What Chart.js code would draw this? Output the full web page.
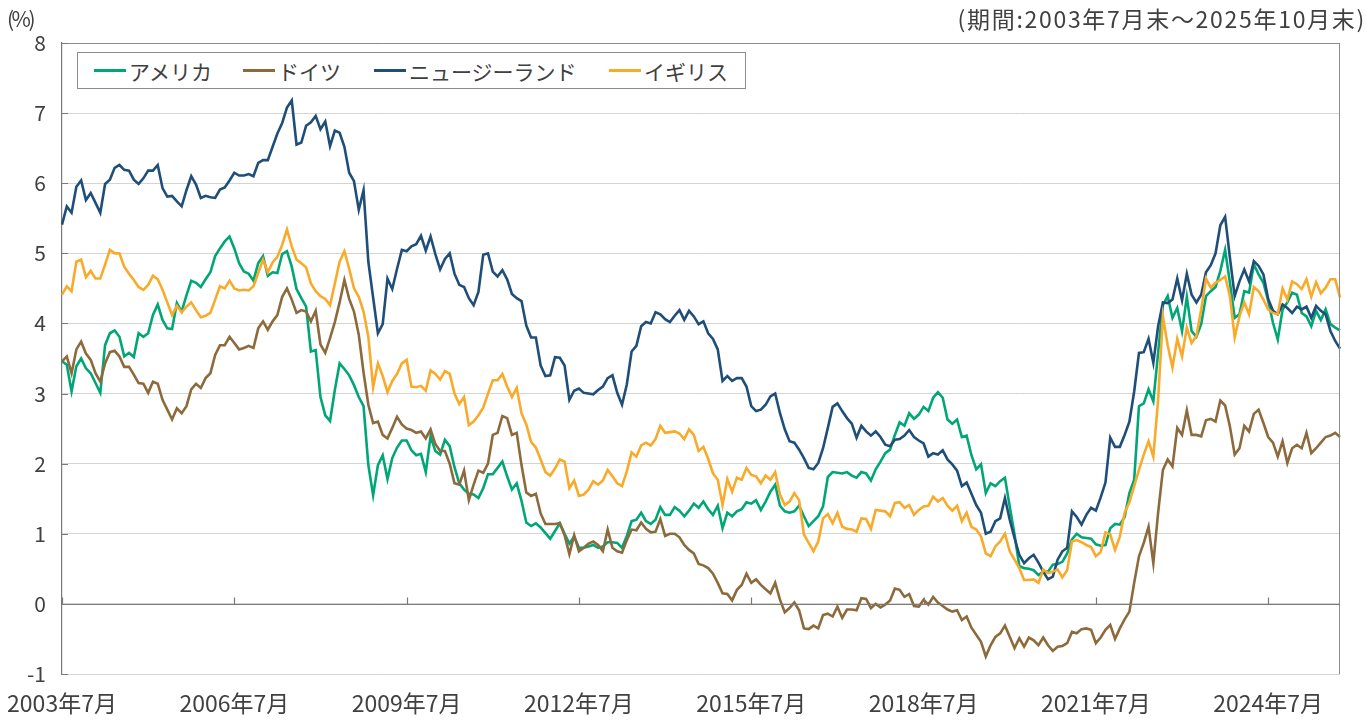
<!DOCTYPE html>
<html>
<head>
<meta charset="utf-8">
<script src="https://cdn.jsdelivr.net/npm/chart.js@4.4.1/dist/chart.umd.min.js"></script>
<style>
  html, body { margin: 0; padding: 0; background: #fff; }
  #wrap { position: relative; width: 1370px; height: 720px; font-family: "Noto Sans CJK JP", "Noto Sans", sans-serif; color: #404040; }
  canvas { position: absolute; left: 0; top: 0; }
  .note { position: absolute; line-height: 24px; white-space: nowrap; }
  #legend { position: absolute; left: 77px; top: 52px; width: 667px; height: 35px; border: 1px solid #8c8c8c; background: #fff; }
  .item { position: absolute; top: 0; height: 35px; display: flex; align-items: center; font-size: 21px; white-space: nowrap; }
  .swatch { width: 32px; height: 3px; margin-right: 3px; }
</style>
</head>
<body>
<div id="wrap">
  <canvas id="c" width="1370" height="720"></canvas>
  <div class="note" style="left:7px; top:6px; font-size:21px; letter-spacing:-2.5px;">(%)</div>
  <div class="note" style="right:4px; top:6px; font-size:23px; letter-spacing:1.7px;">(期間:2003年7月末～2025年10月末)</div>
  <div id="legend"></div>
</div>
<script>
// ---- categories (monthly, 2003年7月 .. 2025年10月) ----
const START_YEAR = 2003;
const START_MONTH = 7;
const MONTH_COUNT = 268;
const months = Array.from({length: MONTH_COUNT}, (_, i) => {
  const m = START_MONTH - 1 + i;
  return (START_YEAR + Math.floor(m / 12)) + '年' + (m % 12 + 1) + '月';
});
const TICK_EVERY = 36;

// ---- series names ----
const seriesNames = ['アメリカ', 'ドイツ', 'ニュージーランド', 'イギリス'];

// ---- series values (%) ----
const usa = [
  3.46,3.41,3.03,3.39,3.50,3.36,3.29,3.15,3.01,3.69,3.86,3.90,
  3.81,3.53,3.58,3.52,3.86,3.81,3.86,4.12,4.27,4.05,3.93,3.92,
  4.29,4.17,4.40,4.61,4.58,4.52,4.63,4.73,4.96,5.07,5.17,5.24,
  5.07,4.86,4.74,4.71,4.61,4.86,4.96,4.68,4.73,4.72,4.99,5.03,
  4.81,4.49,4.36,4.24,3.60,3.62,2.95,2.69,2.61,3.05,3.43,3.35,
  3.26,3.12,2.95,2.82,1.98,1.55,1.98,2.12,1.78,2.08,2.23,2.33,
  2.33,2.19,2.12,2.14,1.88,2.39,2.18,2.13,2.34,2.25,1.95,1.72,
  1.63,1.57,1.56,1.51,1.65,1.85,1.85,1.94,2.03,1.82,1.63,1.72,
  1.47,1.16,1.11,1.15,1.09,1.01,0.93,1.04,1.15,1.00,0.86,0.96,
  0.80,0.80,0.82,0.84,0.80,0.82,0.88,0.88,0.87,0.80,0.97,1.18,
  1.20,1.30,1.18,1.14,1.20,1.38,1.27,1.27,1.38,1.33,1.25,1.33,
  1.43,1.37,1.46,1.35,1.27,1.40,1.08,1.30,1.25,1.32,1.35,1.45,
  1.43,1.48,1.34,1.46,1.60,1.70,1.40,1.32,1.30,1.32,1.40,1.25,
  1.11,1.18,1.25,1.39,1.81,1.88,1.87,1.86,1.88,1.83,1.80,1.88,
  1.86,1.76,1.92,2.03,2.15,2.20,2.41,2.59,2.54,2.72,2.64,2.70,
  2.81,2.75,2.94,3.02,2.94,2.63,2.57,2.63,2.38,2.40,2.12,1.92,
  1.99,1.58,1.72,1.68,1.75,1.80,1.39,0.99,0.54,0.51,0.50,0.48,
  0.41,0.46,0.46,0.56,0.57,0.60,0.72,0.92,1.00,0.95,0.94,0.93,
  0.85,0.83,0.84,1.08,1.14,1.13,1.24,1.58,1.77,2.82,2.86,3.06,
  2.89,3.58,4.26,4.39,4.08,4.22,3.89,4.38,3.89,3.81,3.99,4.39,
  4.46,4.52,4.75,5.05,4.58,4.08,4.13,4.46,4.44,4.84,4.70,4.58,
  4.32,4.01,3.77,4.20,4.30,4.44,4.41,4.15,4.10,3.96,4.18,4.05,
  4.20,3.99,3.94,3.90
];
const germany = [
  3.46,3.53,3.29,3.63,3.74,3.57,3.48,3.29,3.17,3.43,3.59,3.61,
  3.53,3.38,3.38,3.27,3.15,3.14,3.01,3.17,3.14,2.91,2.77,2.63,
  2.79,2.72,2.82,3.06,3.14,3.08,3.22,3.29,3.55,3.69,3.69,3.81,
  3.72,3.63,3.65,3.68,3.65,3.93,4.03,3.91,4.03,4.12,4.38,4.50,
  4.34,4.15,4.19,4.17,4.03,4.18,3.70,3.58,3.79,4.02,4.30,4.62,
  4.35,4.17,3.84,3.30,2.84,2.58,2.60,2.41,2.36,2.51,2.67,2.56,
  2.50,2.48,2.44,2.46,2.36,2.49,2.28,2.18,2.18,2.00,1.72,1.70,
  1.90,1.48,1.70,1.90,1.87,2.00,2.41,2.44,2.68,2.65,2.41,2.44,
  1.98,1.59,1.54,1.57,1.29,1.14,1.14,1.14,1.15,0.98,0.71,0.98,
  0.75,0.80,0.86,0.89,0.84,0.75,1.06,0.80,0.75,0.73,0.91,1.06,
  1.05,1.16,1.07,1.02,1.03,1.21,0.97,1.00,1.00,0.95,0.84,0.77,
  0.72,0.57,0.55,0.51,0.43,0.30,0.15,0.14,0.05,0.20,0.27,0.43,
  0.30,0.35,0.27,0.21,0.15,0.30,0.06,-0.12,-0.06,0.02,-0.09,-0.35,
  -0.36,-0.31,-0.35,-0.16,-0.14,-0.18,-0.04,-0.20,-0.08,-0.08,-0.09,0.08,
  0.07,-0.06,0.00,-0.05,-0.01,0.05,0.22,0.20,0.10,0.14,-0.03,-0.04,
  0.06,-0.01,0.10,0.02,-0.03,-0.08,-0.11,-0.09,-0.23,-0.18,-0.34,-0.44,
  -0.54,-0.75,-0.59,-0.47,-0.42,-0.31,-0.47,-0.63,-0.49,-0.61,-0.48,-0.52,
  -0.59,-0.48,-0.59,-0.67,-0.61,-0.60,-0.56,-0.40,-0.42,-0.36,-0.35,-0.37,
  -0.56,-0.48,-0.37,-0.30,-0.50,-0.35,-0.22,-0.11,0.30,0.68,0.87,1.10,
  0.58,1.30,1.91,2.06,1.96,2.51,2.41,2.76,2.41,2.41,2.39,2.62,
  2.64,2.60,2.90,2.83,2.53,2.13,2.22,2.54,2.46,2.71,2.77,2.58,
  2.38,2.30,2.10,2.32,2.01,2.22,2.27,2.22,2.44,2.15,2.22,2.30,
  2.38,2.40,2.44,2.38
];
const newZealand = [
  5.41,5.67,5.58,5.95,6.04,5.76,5.86,5.72,5.58,5.99,6.05,6.22,
  6.26,6.19,6.18,6.05,5.99,6.07,6.18,6.18,6.26,5.93,5.81,5.82,
  5.74,5.67,5.90,6.10,5.98,5.79,5.82,5.80,5.79,5.91,5.94,6.04,
  6.15,6.11,6.11,6.13,6.10,6.29,6.33,6.33,6.52,6.71,6.86,7.08,
  7.18,6.55,6.58,6.82,6.87,6.96,6.77,6.88,6.53,6.75,6.72,6.52,
  6.15,6.03,5.62,5.90,4.88,4.37,3.86,3.99,4.64,4.49,4.78,5.05,
  5.03,5.10,5.13,5.25,5.04,5.24,4.99,4.77,4.92,5.00,4.71,4.55,
  4.52,4.36,4.26,4.45,4.98,5.00,4.74,4.67,4.76,4.63,4.42,4.36,
  4.32,3.97,3.80,3.80,3.40,3.25,3.26,3.52,3.51,3.40,2.91,3.04,
  3.07,3.01,3.00,2.99,3.05,3.10,3.22,3.26,3.01,2.84,3.13,3.60,
  3.68,3.96,4.02,4.00,4.16,4.13,4.06,4.02,4.11,4.19,4.05,4.18,
  4.10,3.99,4.03,3.86,3.78,3.63,3.18,3.25,3.18,3.22,3.22,3.10,
  2.82,2.75,2.77,2.84,2.96,3.00,2.72,2.49,2.32,2.30,2.20,2.08,
  1.94,1.92,2.01,2.22,2.51,2.81,2.86,2.75,2.65,2.57,2.37,2.54,
  2.46,2.40,2.46,2.38,2.27,2.25,2.34,2.35,2.40,2.48,2.38,2.33,
  2.29,2.10,2.15,2.13,2.19,2.06,1.99,1.90,1.68,1.73,1.57,1.41,
  1.30,1.00,1.03,1.18,1.22,1.51,1.20,0.94,0.70,0.58,0.65,0.70,
  0.59,0.46,0.35,0.39,0.63,0.75,0.80,1.32,1.24,1.13,1.27,1.37,
  1.33,1.52,1.73,2.37,2.24,2.24,2.41,2.60,3.03,3.58,3.59,3.78,
  3.44,3.96,4.30,4.29,4.34,4.64,4.33,4.71,4.41,4.30,4.41,4.73,
  4.83,5.00,5.40,5.52,4.94,4.39,4.60,4.77,4.60,4.89,4.82,4.70,
  4.35,4.18,4.13,4.27,4.22,4.15,4.24,4.20,4.24,4.08,4.25,4.18,
  4.13,3.89,3.75,3.64
];
const uk = [
  4.41,4.53,4.46,4.88,4.91,4.66,4.75,4.64,4.64,4.84,5.05,5.00,
  5.00,4.81,4.71,4.62,4.52,4.48,4.55,4.68,4.63,4.48,4.30,4.12,
  4.25,4.16,4.24,4.30,4.19,4.09,4.11,4.15,4.34,4.53,4.50,4.61,
  4.50,4.47,4.48,4.47,4.53,4.72,4.91,4.73,4.87,4.95,5.12,5.34,
  5.10,4.91,4.86,4.80,4.57,4.46,4.39,4.35,4.26,4.57,4.88,5.03,
  4.78,4.50,4.38,4.17,3.81,3.09,3.43,3.25,3.02,3.18,3.28,3.43,
  3.48,3.10,3.09,3.11,3.04,3.33,3.28,3.20,3.32,3.28,3.00,2.85,
  2.95,2.55,2.60,2.69,2.80,3.00,3.19,3.19,3.28,3.10,2.95,3.08,
  2.72,2.56,2.31,2.23,2.06,1.88,1.83,1.93,2.06,2.03,1.65,1.76,
  1.54,1.56,1.63,1.75,1.70,1.76,1.91,1.82,1.72,1.68,1.89,2.16,
  2.10,2.26,2.30,2.26,2.35,2.54,2.44,2.45,2.46,2.43,2.35,2.49,
  2.41,2.18,2.24,2.07,1.86,1.77,1.41,1.78,1.60,1.80,1.77,1.94,
  1.84,1.82,1.72,1.83,1.77,1.88,1.56,1.41,1.46,1.58,1.48,0.99,
  0.87,0.75,0.89,1.22,1.28,1.15,1.30,1.10,1.07,1.06,1.03,1.22,
  1.21,1.07,1.34,1.33,1.32,1.25,1.44,1.45,1.37,1.41,1.27,1.34,
  1.39,1.40,1.53,1.46,1.51,1.40,1.33,1.40,1.18,1.30,1.10,1.06,
  0.96,0.72,0.68,0.82,0.89,1.00,0.75,0.63,0.51,0.34,0.34,0.35,
  0.30,0.49,0.44,0.46,0.49,0.38,0.48,0.89,0.91,0.88,0.84,0.81,
  0.68,0.74,1.02,0.99,0.77,0.96,1.30,1.45,1.68,1.91,2.13,2.32,
  2.10,2.91,4.10,3.69,3.37,3.78,3.53,3.94,3.72,3.82,4.20,4.64,
  4.51,4.58,4.62,4.67,4.39,3.80,4.10,4.30,4.13,4.52,4.46,4.34,
  4.20,4.15,4.13,4.50,4.34,4.60,4.56,4.49,4.63,4.38,4.59,4.43,
  4.51,4.63,4.63,4.37
];

// ---- axis ----
const Y_MIN = -1, Y_MAX = 8, Y_STEP = 1;

// ---- styles ----
const colors = ['#00a676', '#8c6a3b', '#1f4e79', '#f9aa2a'];
const drawOrder = [4, 3, 2, 1]; // lower = drawn on top (イギリス on top)
const FONT = '"Noto Sans CJK JP", "Noto Sans", sans-serif';
const TEXT = '#404040';

// HTML legend
const legendPos = [16, 165, 296, 531];
const legendEl = document.getElementById('legend');
seriesNames.forEach((n, i) => {
  const it = document.createElement('div');
  it.className = 'item';
  it.style.left = legendPos[i] + 'px';
  it.innerHTML = '<span class="swatch" style="background:' + colors[i] + '"></span><span>' + n + '</span>';
  legendEl.appendChild(it);
});

const frame = {
  id: 'frame',
  afterDatasetsDraw(chart) {
    const {ctx, chartArea: a, scales} = chart;
    ctx.save();
    ctx.strokeStyle = '#8c8c8c';
    ctx.lineWidth = 1;
    ctx.beginPath();
    ctx.moveTo(a.left, a.top + 0.5); ctx.lineTo(a.right, a.top + 0.5);
    ctx.moveTo(a.right - 0.5, a.top); ctx.lineTo(a.right - 0.5, a.bottom);
    ctx.stroke();
    // zero line
    const y0 = Math.round(scales.y.getPixelForValue(0)) + 0.5;
    ctx.strokeStyle = '#7a7a7a';
    ctx.lineWidth = 1.2;
    ctx.beginPath();
    ctx.moveTo(a.left, y0); ctx.lineTo(a.right, y0);
    // x tick marks on zero line
    for (let i = 0; i < months.length; i += TICK_EVERY) {
      const x = Math.round(scales.x.getPixelForValue(i)) + 0.5;
      ctx.moveTo(x, y0); ctx.lineTo(x, y0 - 7);
    }
    // y inner tick marks
    for (let v = Y_MIN; v <= Y_MAX; v += Y_STEP) {
      const y = Math.round(scales.y.getPixelForValue(v)) + 0.5;
      ctx.moveTo(a.left, y); ctx.lineTo(a.left + 6, y);
    }
    ctx.stroke();
    ctx.restore();
  }
};

new Chart(document.getElementById('c'), {
  type: 'line',
  data: {
    labels: months,
    datasets: [usa, germany, newZealand, uk].map((d, i) => ({
      label: seriesNames[i],
      data: d,
      borderColor: colors[i],
      backgroundColor: colors[i],
      borderWidth: 2.6,
      pointRadius: 0,
      tension: 0,
      order: drawOrder[i]
    }))
  },
  options: {
    responsive: false,
    animation: false,
    devicePixelRatio: 1,
    layout: { padding: { left: 0, right: 30, top: 43, bottom: 0 } },
    plugins: { legend: { display: false }, tooltip: { enabled: false } },
    scales: {
      x: {
        grid: { display: false, drawTicks: false },
        border: { display: false },
        ticks: {
          autoSkip: false, maxRotation: 0, minRotation: 0,
          color: TEXT, font: { family: FONT, size: 23 }, padding: 15,
          callback: (v, i) => (i % TICK_EVERY === 0 ? months[i] : '')
        },
        afterFit(s) { s.height = 46; s.paddingLeft = 0; s.paddingRight = 0; }
      },
      y: {
        min: Y_MIN, max: Y_MAX,
        ticks: { stepSize: Y_STEP, color: TEXT, font: { family: FONT, size: 21 }, padding: 16 },
        grid: { drawTicks: false, color: '#d4d4d4', lineWidth: 1 },
        border: { color: '#7a7a7a', width: 1.2 },
        afterFit(s) { s.width = 62; s.paddingTop = 0; s.paddingBottom = 0; }
      }
    }
  },
  plugins: [frame]
});
</script>
</body>
</html>
